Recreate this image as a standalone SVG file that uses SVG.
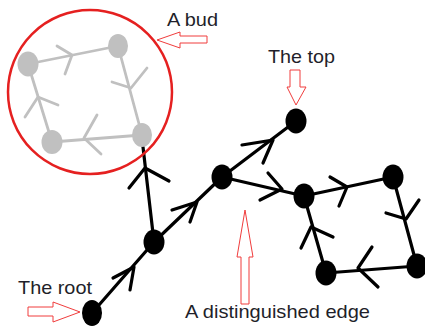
<svg xmlns="http://www.w3.org/2000/svg" width="425" height="327" viewBox="0 0 425 327">
<style>
.gl{stroke:#c0c0c0;stroke-width:2.8;fill:none;stroke-linecap:round;stroke-linejoin:round}
.bl{stroke:#000;stroke-width:3.2;fill:none;stroke-linecap:round;stroke-linejoin:round}
.gn{fill:#c0c0c0}
.bn{fill:#000}
.call{fill:#fff;stroke:#f03c3c;stroke-width:1}
.lbl{font-family:"Liberation Sans",Arial,sans-serif;font-size:19px;fill:#1f1f2a}
</style>
<rect width="425" height="327" fill="#fff"/>
<g id="connectors">
  <line class="gl" x1="28" y1="64" x2="118" y2="46"/>
  <polyline class="gl" points="57,46 72,55 65,74"/>
  <line class="gl" x1="118" y1="46" x2="142" y2="135"/>
  <polyline class="gl" points="112,82 131,88 147,68"/>
  <line class="gl" x1="142" y1="135" x2="52" y2="142"/>
  <polyline class="gl" points="97,115 84,138 101,154"/>
  <line class="gl" x1="52" y1="142" x2="28" y2="64"/>
  <polyline class="gl" points="25,117 38,97 58,105"/>
  <line class="bl" x1="92" y1="313" x2="154" y2="242"/>
  <polyline class="bl" points="113,278 134,267 130,290"/>
  <line class="bl" x1="154" y1="242" x2="143" y2="147"/>
  <polyline class="bl" points="129,188 145,168 169,181"/>
  <line class="bl" x1="154" y1="242" x2="222" y2="177"/>
  <polyline class="bl" points="172,210 197,202 190,222"/>
  <line class="bl" x1="222" y1="177" x2="296" y2="121"/>
  <polyline class="bl" points="242,145 273,140 263,163"/>
  <line class="bl" x1="222" y1="177" x2="304" y2="196"/>
  <polyline class="bl" points="268,173 282,189 260,200"/>
  <line class="bl" x1="304" y1="196" x2="393" y2="177"/>
  <polyline class="bl" points="330,177 347,187 339,206"/>
  <line class="bl" x1="393" y1="177" x2="417" y2="266"/>
  <polyline class="bl" points="386,213 406,219 419,200"/>
  <line class="bl" x1="417" y1="266" x2="326" y2="273"/>
  <polyline class="bl" points="372,247 358,268 378,287"/>
  <line class="bl" x1="326" y1="273" x2="304" y2="196"/>
  <polyline class="bl" points="301,248 311,227 333,237"/>
</g>
<g id="bud-nodes">
  <g id="bud-tl"><ellipse class="gn" cx="28" cy="64" rx="10.5" ry="12.5"/></g>
  <g id="bud-tr"><ellipse class="gn" cx="118" cy="46" rx="10" ry="12"/></g>
  <g id="bud-bl"><ellipse class="gn" cx="52" cy="142" rx="10.5" ry="12"/></g>
  <g id="bud-br"><ellipse class="gn" cx="142" cy="135" rx="10" ry="12"/></g>
</g>
<g id="bud">
  <circle cx="90" cy="92" r="82" fill="none" stroke="#e52020" stroke-width="2.5"/>
</g>
<g id="nodes">
  <g id="root"><ellipse class="bn" cx="92" cy="313" rx="10" ry="13"/></g>
  <g id="n2"><ellipse class="bn" cx="154" cy="242" rx="10.5" ry="12.5"/></g>
  <g id="n3"><ellipse class="bn" cx="222" cy="177" rx="10.5" ry="12.5"/></g>
  <g id="top"><ellipse class="bn" cx="296" cy="121" rx="10.5" ry="12.5"/></g>
  <g id="n4"><ellipse class="bn" cx="304" cy="196" rx="10.5" ry="12.5"/></g>
  <g id="n5"><ellipse class="bn" cx="393" cy="177" rx="10.5" ry="12.5"/></g>
  <g id="n6"><ellipse class="bn" cx="417" cy="266" rx="10.5" ry="12.5"/></g>
  <g id="n7"><ellipse class="bn" cx="326" cy="273" rx="10.5" ry="12.5"/></g>
</g>
<g id="callouts">
  <polygon class="call" points="157,40 180,32 180,36 207,36 207,43 180,43 180,48"/>
  <polygon class="call" points="290,70 300,70 300,87 306,87 296,105 287,87 290,87"/>
  <polygon class="call" points="28,307 53,307 53,302 80,312 53,322 53,316 28,316"/>
  <polygon class="call" points="245,210 253,257 249,257 249,304 241,304 241,257 237,257"/>
</g>
<g id="labels">
  <text class="lbl" x="167" y="26" textLength="51" lengthAdjust="spacingAndGlyphs">A bud</text>
  <text class="lbl" x="268" y="63" textLength="67" lengthAdjust="spacingAndGlyphs">The top</text>
  <text class="lbl" x="18" y="294" textLength="74" lengthAdjust="spacingAndGlyphs">The root</text>
  <text class="lbl" x="185" y="318" textLength="185" lengthAdjust="spacingAndGlyphs">A distinguished edge</text>
</g>
</svg>
